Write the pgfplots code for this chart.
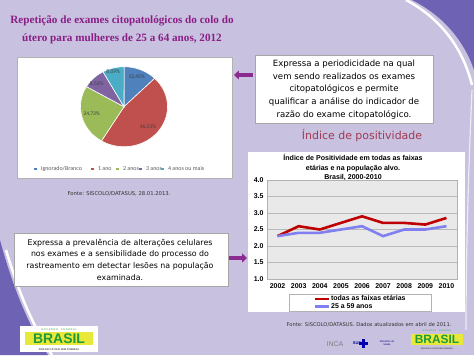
\documentclass[border=0pt]{standalone}
\usepackage{fontspec}
\setmainfont{Liberation Sans}
\newfontfamily\tahoma{DejaVu Sans}
\newfontfamily\timesf{Liberation Serif}
\newfontfamily\calib{Carlito}
\usepackage{pgfplots}
\pgfplotsset{compat=1.18}
\usetikzlibrary{arrows.meta}
\definecolor{bgcol}{HTML}{C8C1DF}
\definecolor{titlepurple}{HTML}{8A1E86}
\definecolor{headred}{HTML}{A03A55}
\definecolor{arrowpurple}{HTML}{8B2A8F}
\definecolor{swoosh}{HTML}{6E62B4}
\definecolor{pieblue}{HTML}{4F81BD}
\definecolor{piered}{HTML}{C0504D}
\definecolor{piegreen}{HTML}{9BBB59}
\definecolor{piepurple}{HTML}{8064A2}
\definecolor{piecyan}{HTML}{4BACC6}
\definecolor{linered}{HTML}{C00000}
\definecolor{lineblue}{HTML}{8080F0}
\definecolor{logogreen}{HTML}{1E9A3C}
\definecolor{logoyellow}{HTML}{E8E838}
\begin{document}
\begin{tikzpicture}[x=1bp,y=1bp]
\useasboundingbox (0,0) rectangle (474,-355);
\fill[bgcol] (0,0) rectangle (474,-355);
% decorations
\fill[swoosh] (412,0) .. controls (442,-15) and (464,-40) .. (474,-70) -- (474,0) -- cycle;
\draw[white,line width=2.5] (406,0) .. controls (438,-17) and (462,-45) .. (472,-85);
\draw[white!70!bgcol,line width=1.2] (472,-90) .. controls (468,-180) and (466,-260) .. (466,-330);
\fill[swoosh] (0,-240) .. controls (12,-285) and (28,-325) .. (48,-355) -- (0,-355) -- cycle;
\draw[white,line width=2.5] (6,-250) .. controls (18,-290) and (32,-325) .. (52,-355);
% title
\node[font=\timesf\bfseries\fontsize{11.2}{18}\selectfont, text=titlepurple, align=center] at (122,-29.5) {Repetição de exames citopatológicos do colo do\\útero para mulheres de 25 a 64 anos, 2012};
% pie box
\draw[gray!60, fill=white] (17,-57) rectangle (232,-178);
\foreach \v/\c/\cum in {12.45/pieblue/0,46.21/piered/12.45,24.73/piegreen/58.66,8.56/piepurple/83.39,8.09/piecyan/91.95}{
  \pgfmathsetmacro\s{90-3.6*\cum}
  \pgfmathsetmacro\e{90-3.6*(\cum+\v)}
  \fill[\c,draw=white,line width=0.6] (124,-106.7) -- ++(\s:43.5 and 40) arc[start angle=\s,end angle=\e,x radius=43.5,y radius=40] -- cycle;
}
\begin{scope}[font=\calib\fontsize{5.5}{6}\selectfont, text=black!75]
\node at (136.7,-76.7) {12,45\%};
\node at (148,-126.7) {46,21\%};
\node at (91.7,-114) {24,73\%};
\node at (96.7,-84) {8,56\%};
\node at (113.3,-72.3) {8,09\%};
\end{scope}
\begin{scope}[font=\calib\fontsize{6}{7}\selectfont, text=black!65]
\fill[pieblue] (34,-167.5) rectangle ++(2.5,-2.5);
\node[anchor=west] at (37.5,-168.8) {Ignorado/Branco};
\fill[piered] (91,-167.5) rectangle ++(2.5,-2.5);
\node[anchor=west] at (94.5,-168.8) {1 ano};
\fill[piegreen] (116,-167.5) rectangle ++(2.5,-2.5);
\node[anchor=west] at (119.5,-168.8) {2 anos};
\fill[piepurple] (139,-167.5) rectangle ++(2.5,-2.5);
\node[anchor=west] at (142.5,-168.8) {3 anos};
\fill[piecyan] (161,-167.5) rectangle ++(2.5,-2.5);
\node[anchor=west] at (164.5,-168.8) {4 anos ou mais};
\end{scope}
\node[font=\tahoma\fontsize{5.3}{6}\selectfont, text=black!80] at (119,-194) {Fonte: SISCOLO/DATASUS, 28.01.2013.};
% right text box
\draw[gray!70, fill=white] (255,-55) rectangle (433,-123);
\node[font=\tahoma\fontsize{8.6}{12.7}\selectfont, align=center] at (344,-89.5) {Expressa a periodicidade na qual\\vem sendo realizados os exames\\citopatológicos e permite\\qualificar a análise do indicador de\\razão do exame citopatológico.};
\draw[arrowpurple, line width=4, -{Triangle[length=5,width=9]}] (253,-75) -- (234,-75);
% heading
\node[font=\tahoma\fontsize{11}{13}\selectfont, text=headred] at (362,-136) {Índice de positividade};
% left text box 2
\draw[gray!70, fill=white] (14,-233) rectangle (228,-286);
\node[font=\tahoma\fontsize{7.9}{11.7}\selectfont, align=center] at (120,-259.5) {Expressa a prevalência de alterações celulares\\nos exames e a sensibilidade do processo do\\rastreamento em detectar lesões na população\\examinada.};
\draw[arrowpurple, line width=4, -{Triangle[length=5,width=9]}] (229,-258) -- (247,-258);
% line chart box
\fill[white] (248,-152) rectangle (465,-312);
\node[font=\bfseries\fontsize{7.1}{9.4}\selectfont, align=center] at (353,-167.5) {Índice de Positividade em todas as faixas\\etárias e na população alvo.\\Brasil, 2000-2010};
\begin{axis}[at={(267bp,-279bp)}, anchor=south west, scale only axis,
  width=190bp, height=99bp,
  xmin=2001.5, xmax=2010.5, ymin=1, ymax=4,
  xtick={2002,2003,2004,2005,2006,2007,2008,2009,2010},
  ytick={1,1.5,2,2.5,3,3.5,4},
  /pgf/number format/assume math mode=true,
  x tick label style={/pgf/number format/1000 sep={}},
  y tick label style={/pgf/number format/.cd, fixed, fixed zerofill, precision=1},
  tick label style={font=\bfseries\fontsize{7}{8}\selectfont},
  major tick length=0pt,
  axis line style={gray!60},
  axis background/.style={fill=gray!17},
  ymajorgrids, grid style={gray!55, line width=0.4pt},
  xticklabel shift=1bp,
  legend style={at={(0.49,-0.155)}, anchor=north, draw=gray!60,
    font=\bfseries\fontsize{7}{7}\selectfont, inner xsep=25bp, inner ysep=0.5bp,
    nodes={inner sep=0.6bp}},
  legend cell align=left,
  legend image code/.code={\draw[#1, line width=2.5bp] (0,0) -- (14bp,0);},
]
\addplot[linered, line width=2.6bp] coordinates {(2002,2.3) (2003,2.6) (2004,2.5) (2005,2.7) (2006,2.9) (2007,2.7) (2008,2.7) (2009,2.65) (2010,2.85)};
\addlegendentry{todas as faixas etárias}
\addplot[lineblue, line width=2.6bp] coordinates {(2002,2.3) (2003,2.4) (2004,2.4) (2005,2.5) (2006,2.6) (2007,2.3) (2008,2.5) (2009,2.5) (2010,2.6)};
\addlegendentry{25 a 59 anos}
\end{axis}
\node[font=\tahoma\fontsize{5.2}{6}\selectfont, text=black!80] at (369,-325) {Fonte: SISCOLO/DATASUS. Dados atualizados em abril de 2011.};
% logos
\fill[white] (20,-326) rectangle (98,-352);
\node[font=\fontsize{2.5}{3}\selectfont, text=logogreen] at (59,-330) {G O V E R N O \quad F E D E R A L};
\fill[logoyellow] (25,-332) rectangle (93,-345);
\node[font=\bfseries\fontsize{14}{14}\selectfont, text=logogreen] at (59,-338.5) {BRASIL};
\node[font=\bfseries\fontsize{2.5}{3}\selectfont, text=black!70] at (59,-349) {PAÍS RICO É PAÍS SEM POBREZA};
\node[font=\fontsize{7}{7}\selectfont, text=gray] at (335,-344) {INCA};
\node[font=\bfseries\fontsize{4}{4}\selectfont, text=blue!60!black] at (357,-343) {SUS};
\fill[blue!70!black] (363,-343) ++(-1.5,-4.5) rectangle ++(3,9);
\fill[blue!70!black] (363,-343) ++(-4.5,-1.5) rectangle ++(9,3);
\node[font=\fontsize{2.5}{3}\selectfont, align=center, text=blue!50!black] at (387,-343) {Ministério da\\Saúde};
\fill[logoyellow] (411,-334) rectangle (463,-345);
\node[font=\bfseries\fontsize{12}{12}\selectfont, text=logogreen] at (437,-339.5) {BRASIL};
\node[font=\bfseries\fontsize{2}{3}\selectfont, text=black!70] at (437,-349) {PAÍS RICO É PAÍS SEM POBREZA};
\node[font=\fontsize{2}{3}\selectfont, text=logogreen] at (437,-331) {G O V E R N O \quad F E D E R A L};
\end{tikzpicture}
\end{document}
